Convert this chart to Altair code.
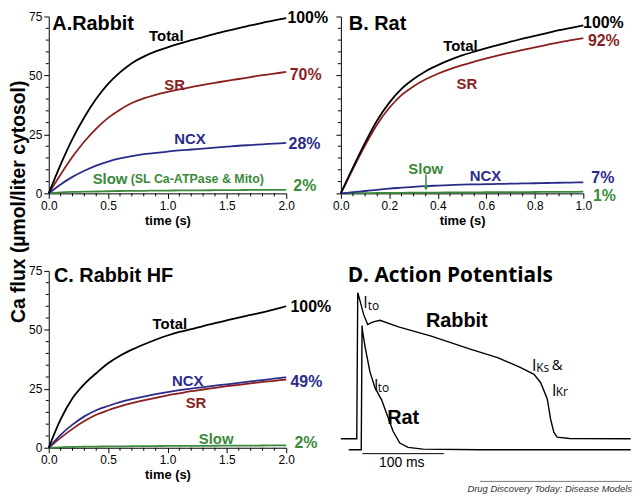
import altair as alt
import pandas as pd

# ---------------- data ----------------
SERIES = ["Slow", "SR", "NCX", "Total"]
SERIES_COLORS = ["#3b8a3b", "#8a1f1f", "#2b2b8a", "#000000"]
BLACK, RED, NAVY, GREEN = "#000000", "#8a1f1f", "#2b2b8a", "#3b8a3b"

# Panel A: Rabbit (time in s, flux in umol/L cytosol)
A_t = [0.0, 0.1, 0.2, 0.3, 0.4, 0.5, 0.6, 0.7, 0.8, 0.9, 1.0,
       1.1, 1.2, 1.3, 1.4, 1.5, 1.6, 1.7, 1.8, 1.9, 2.0]
A_total = [0, 12.2, 23.1, 32.3, 40.1, 46.4, 51.3, 55.2, 58.0, 60.2, 61.9,
           63.5, 65.0, 66.3, 67.6, 68.9, 70.1, 71.2, 72.3, 73.4, 74.3]
A_sr = [0, 8.0, 15.5, 22.0, 27.5, 32.0, 35.5, 38.3, 40.3, 41.8, 43.0,
        44.1, 45.1, 46.0, 46.9, 47.7, 48.5, 49.3, 50.1, 50.8, 51.5]
A_ncx = [0, 3.8, 7.0, 9.6, 11.8, 13.5, 14.8, 15.8, 16.6, 17.2, 17.7,
         18.2, 18.6, 19.0, 19.4, 19.8, 20.2, 20.5, 20.8, 21.1, 21.4]
A_slow = [0, 0.4, 0.6, 0.7, 0.8, 0.9, 1.0, 1.05, 1.1, 1.15, 1.2,
          1.25, 1.3, 1.3, 1.35, 1.4, 1.4, 1.45, 1.45, 1.5, 1.5]

# Panel B: Rat
B_t = [0.0, 0.05, 0.1, 0.15, 0.2, 0.25, 0.3, 0.35, 0.4, 0.45, 0.5,
       0.55, 0.6, 0.65, 0.7, 0.75, 0.8, 0.85, 0.9, 0.95, 1.0]
B_total = [0, 11.0, 21.5, 31.0, 38.5, 44.3, 48.5, 51.8, 54.4, 56.6, 58.5,
           60.1, 61.6, 63.0, 64.3, 65.6, 66.8, 68.0, 69.2, 70.2, 71.2]
B_sr = [0, 10.45, 20.4, 29.35, 36.3, 41.65, 45.4, 48.37, 50.74, 52.7, 54.38,
        55.85, 57.22, 58.5, 59.68, 60.85, 61.92, 63.0, 64.08, 64.95, 65.8]
B_ncx = [0, 0.5, 1.0, 1.5, 2.0, 2.4, 2.8, 3.1, 3.3, 3.5, 3.7,
         3.8, 3.9, 4.0, 4.1, 4.2, 4.3, 4.4, 4.5, 4.6, 4.7]
B_slow = [0, 0.05, 0.1, 0.15, 0.2, 0.25, 0.3, 0.33, 0.36, 0.4, 0.42,
          0.45, 0.48, 0.5, 0.52, 0.55, 0.58, 0.6, 0.62, 0.65, 0.7]

# Panel C: Rabbit HF
C_t = A_t
C_total = [0, 12.0, 21.0, 27.0, 31.6, 35.8, 39.0, 41.6, 43.8, 45.8, 47.6,
           49.1, 50.3, 51.6, 52.8, 54.0, 55.2, 56.3, 57.4, 58.7, 60.0]
C_ncx = [0, 5.5, 9.8, 13.3, 15.9, 17.7, 19.3, 20.6, 21.7, 22.7, 23.6,
         24.4, 25.1, 25.7, 26.3, 26.9, 27.5, 28.1, 28.7, 29.3, 29.8]
C_sr = [0, 4.2, 8.0, 11.3, 14.0, 15.9, 17.5, 18.9, 20.1, 21.2, 22.2,
        23.1, 24.0, 24.7, 25.4, 26.1, 26.7, 27.3, 27.9, 28.4, 28.9]
C_slow = [0, 0.2, 0.35, 0.45, 0.5, 0.55, 0.6, 0.65, 0.7, 0.72, 0.75,
          0.78, 0.8, 0.82, 0.85, 0.88, 0.9, 0.92, 0.95, 0.98, 1.0]

# Panel D: action potentials (time in ms, membrane potential in mV)
rabbit_ms = [-20.7, -1.2, 0.0, 2.4, 7.3, 12.2, 18.0, 27.2, 50.0, 90.2, 139.0,
             171.6, 200.0, 216.3, 224.4, 232.6, 236.6, 240.6, 244.7, 260.0, 335.0]
rabbit_mv = [-80, -80, 40, 34.3, 22, 13.9, 15.8, 17.4, 12.0, 4.3, -6.5,
             -13.3, -21.5, -27.0, -33.7, -47.3, -63.7, -74.6, -78.6, -79.8, -80]
rat_ms = [-11.0, 4.3, 5.3, 6.0, 8.9, 15.0, 21.1, 29.3, 37.4, 43.5, 51.6,
          61.8, 80.0, 150.0, 335.0]
rat_mv = [-89, -89, 13, 8, -4, -25, -38, -48, -63, -74, -83.5,
          -87, -88.5, -89, -89]

# axis ticks: labelled (major) and minor
major_y = [0, 25, 50, 75]
minor_y = [5, 10, 15, 20, 30, 35, 40, 45, 55, 60, 65, 70]
major_x2 = [0.0, 0.5, 1.0, 1.5, 2.0]
minor_x2 = [0.1, 0.2, 0.3, 0.4, 0.6, 0.7, 0.8, 0.9, 1.1, 1.2, 1.3, 1.4,
            1.6, 1.7, 1.8, 1.9]
major_x1 = [0.0, 0.2, 0.4, 0.6, 0.8, 1.0]
minor_x1 = [0.05, 0.1, 0.15, 0.25, 0.3, 0.35, 0.45, 0.5, 0.55, 0.65, 0.7,
            0.75, 0.85, 0.9, 0.95]

# annotations: (x, y, text, colour, font size)
A_notes_c = [(0.99, 66.6, "Total", BLACK, 15), (1.06, 45.9, "SR", RED, 15),
             (1.19, 23.1, "NCX", NAVY, 15)]
A_notes_l = [(0.03, 71.7, "A.Rabbit", BLACK, 20), (0.37, 6.2, "Slow", GREEN, 15),
             (0.69, 5.9, "(SL Ca-ATPase & Mito)", GREEN, 12.5),
             (2.01, 74.2, "100%", BLACK, 16), (2.03, 50.0, "70%", RED, 16),
             (2.02, 21.0, "28%", NAVY, 16), (2.06, 3.0, "2%", GREEN, 16)]
B_notes_c = [(0.493, 62.4, "Total", BLACK, 15), (0.52, 46.3, "SR", RED, 15),
             (0.35, 10.5, "Slow", GREEN, 15), (0.596, 7.2, "NCX", NAVY, 15)]
B_notes_l = [(0.033, 72.0, "B. Rat", BLACK, 20), (0.999, 72.1, "100%", BLACK, 16),
             (1.019, 64.5, "92%", RED, 16), (1.033, 6.5, "7%", NAVY, 16),
             (1.04, -1.1, "1%", GREEN, 16)]
B_arrow = [(0.351, 8.0, 2.2)]
C_notes_c = [(1.02, 52.6, "Total", BLACK, 15), (1.17, 28.5, "NCX", NAVY, 15),
             (1.24, 18.8, "SR", RED, 15), (1.41, 3.9, "Slow", GREEN, 15)]
C_notes_l = [(0.044, 73.0, "C. Rabbit HF", BLACK, 20), (2.036, 59.5, "100%", BLACK, 16),
             (2.036, 27.8, "49%", NAVY, 16), (2.07, 2.2, "2%", GREEN, 16)]
D_title = [(-12.4, 54.1, "D. Action Potentials", BLACK, 21)]
D_bold = [(121.6, 16.6, "Rabbit", BLACK, 20), (55.7, -62.9, "Rat", BLACK, 20)]
D_big_I = [(6.8, 27.5, "I", BLACK, 16), (20.0, -40.6, "I", BLACK, 16),
           (214.0, -24.2, "I", BLACK, 16), (238.4, -44.7, "I", BLACK, 16),
           (238.0, -23.4, "&", BLACK, 15)]
D_sub = [(12.4, 26.1, "to", BLACK, 12), (24.6, -41.9, "to", BLACK, 12),
         (219.0, -25.1, "Ks", BLACK, 12), (243.0, -45.1, "Kr", BLACK, 12)]
D_scalebar = [(5.7, 105.7, -92.2)]
D_scalelabel = [(54.0, -99.6, "100 ms", BLACK, 14)]
D_source_rule = [(150.0, 336.6, -115.0)]
D_source = [(336.6, -121.0, "Drug Discovery Today: Disease Models", "#333333", 9.5)]

# ---------------- helpers ----------------
FONT = "Liberation Sans"
W_AC, W_B, W_D, H = 239, 244, 293, 178


def long_df(t, total, sr, ncx, slow):
    d = {"Slow": slow, "SR": sr, "NCX": ncx, "Total": total}
    rows = []
    for s in SERIES:
        for ti, v in zip(t, d[s]):
            rows.append({"t": ti, "v": v, "s": s})
    return pd.DataFrame(rows)


def axis(values, title="", labels=True, fmt=None, **kw):
    args = dict(values=values, tickSize=5, labelOverlap=False, labelFlush=False,
                grid=False, labels=labels, title=title)
    if fmt:
        args["format"] = fmt
    args.update(kw)
    return alt.Axis(**args)


def text_layer(rows, xs, ys, xax, yax, align="center", font=FONT, weight="bold",
               baseline="middle", style="normal"):
    df = pd.DataFrame(rows, columns=["x", "y", "txt", "col", "fs"])
    return alt.Chart(df).mark_text(align=align, baseline=baseline, font=font,
                                   fontWeight=weight, fontStyle=style).encode(
        x=alt.X("x:Q", scale=xs, axis=xax),
        y=alt.Y("y:Q", scale=ys, axis=yax),
        text="txt:N",
        color=alt.Color("col:N", scale=None),
        size=alt.Size("fs:Q", scale=None),
    )


def lines_layer(df, xs, ys, xax, yax):
    return alt.Chart(df).mark_line(strokeWidth=1.8, interpolate="monotone").encode(
        x=alt.X("t:Q", scale=xs, axis=xax),
        y=alt.Y("v:Q", scale=ys, axis=yax),
        color=alt.Color("s:N", scale=alt.Scale(domain=SERIES, range=SERIES_COLORS), legend=None),
    )


def minor_ticks(xvals, yvals, xs, ys, xax, yax):
    dx = pd.DataFrame({"m": xvals})
    dy = pd.DataFrame({"m": yvals})
    tx = alt.Chart(dx).mark_rule(color="black", strokeWidth=1).encode(
        x=alt.X("m:Q", scale=xs, axis=xax), y=alt.value(H), y2=alt.value(H + 3))
    ty = alt.Chart(dy).mark_rule(color="black", strokeWidth=1).encode(
        y=alt.Y("m:Q", scale=ys, axis=yax), x=alt.value(0), x2=alt.value(-3))
    return [tx, ty]


ys_flux = alt.Scale(domain=[0, 75], nice=False, zero=False)
xs2 = alt.Scale(domain=[0, 2], nice=False, zero=False)
xs1 = alt.Scale(domain=[0, 1], nice=False, zero=False)

# ---------------- panel A ----------------
yA = axis(major_y, title="Ca flux (µmol/liter cytosol)",
          titleX=-24, titleY=186, titleAngle=270, titleAlign="center",
          titleBaseline="alphabetic", titleFontSize=19.5)
xA = axis(major_x2, title="time (s)", fmt=".1f")
panelA = alt.layer(
    lines_layer(long_df(A_t, A_total, A_sr, A_ncx, A_slow), xs2, ys_flux, xA, yA),
    *minor_ticks(minor_x2, minor_y, xs2, ys_flux, xA, yA),
    text_layer(A_notes_c, xs2, ys_flux, xA, yA, "center"),
    text_layer(A_notes_l, xs2, ys_flux, xA, yA, "left"),
).properties(width=W_AC, height=H)

# ---------------- panel B ----------------
yB = axis(major_y, labels=False)
xB = axis(major_x1, title="time (s)", fmt=".1f")
arrow_df = pd.DataFrame(B_arrow, columns=["x", "y0", "y1"])
panelB = alt.layer(
    lines_layer(long_df(B_t, B_total, B_sr, B_ncx, B_slow), xs1, ys_flux, xB, yB),
    *minor_ticks(minor_x1, minor_y, xs1, ys_flux, xB, yB),
    alt.Chart(arrow_df).mark_rule(color=GREEN, strokeWidth=1.5).encode(
        x=alt.X("x:Q", scale=xs1, axis=xB), y=alt.Y("y0:Q", scale=ys_flux, axis=yB), y2="y1:Q"),
    alt.Chart(arrow_df).mark_point(shape="triangle-down", filled=True, color=GREEN, size=30, opacity=1).encode(
        x=alt.X("x:Q", scale=xs1, axis=xB), y=alt.Y("y1:Q", scale=ys_flux, axis=yB)),
    text_layer(B_notes_c, xs1, ys_flux, xB, yB, "center"),
    text_layer(B_notes_l, xs1, ys_flux, xB, yB, "left"),
).properties(width=W_B, height=H)

# ---------------- panel C ----------------
yC = axis(major_y)
xC = axis(major_x2, title="time (s)", fmt=".1f")
panelC = alt.layer(
    lines_layer(long_df(C_t, C_total, C_sr, C_ncx, C_slow), xs2, ys_flux, xC, yC),
    *minor_ticks(minor_x2, minor_y, xs2, ys_flux, xC, yC),
    text_layer(C_notes_c, xs2, ys_flux, xC, yC, "center"),
    text_layer(C_notes_l, xs2, ys_flux, xC, yC, "left"),
).properties(width=W_AC, height=H)

# ---------------- panel D ----------------
xsD = alt.Scale(domain=[-20.7, 336.6], nice=False, zero=False)
ysD = alt.Scale(domain=[-87.35, 57.96], nice=False, zero=False)
ap_rows = ([{"ms": m, "mv": v, "trace": "Rabbit"} for m, v in zip(rabbit_ms, rabbit_mv)] +
           [{"ms": m, "mv": v, "trace": "Rat"} for m, v in zip(rat_ms, rat_mv)])
ap_df = pd.DataFrame(ap_rows)
bar_df = pd.DataFrame(D_scalebar, columns=["x0", "x1", "y"])
src_df = pd.DataFrame(D_source_rule, columns=["x0", "x1", "y"])

panelD = alt.layer(
    alt.Chart(ap_df).mark_line(color="black", strokeWidth=1.4).encode(
        x=alt.X("ms:Q", scale=xsD, axis=None),
        y=alt.Y("mv:Q", scale=ysD, axis=None),
        detail="trace:N"),
    alt.Chart(bar_df).mark_rule(color="black", strokeWidth=1).encode(
        x=alt.X("x0:Q", scale=xsD, axis=None), x2="x1:Q",
        y=alt.Y("y:Q", scale=ysD, axis=None)),
    alt.Chart(src_df).mark_rule(color="#555555", strokeWidth=0.8).encode(
        x=alt.X("x0:Q", scale=xsD, axis=None), x2="x1:Q",
        y=alt.Y("y:Q", scale=ysD, axis=None)),
    text_layer(D_title, xsD, ysD, None, None, "left", font="Open Sans"),
    text_layer(D_bold, xsD, ysD, None, None, "center"),
    text_layer(D_big_I, xsD, ysD, None, None, "left", font="Open Sans", weight="normal", baseline="alphabetic"),
    text_layer(D_sub, xsD, ysD, None, None, "left", font="Open Sans", weight="normal", baseline="alphabetic"),
    text_layer(D_scalelabel, xsD, ysD, None, None, "center", weight="normal"),
    text_layer(D_source, xsD, ysD, None, None, "right", weight="normal", style="italic"),
).properties(width=W_D, height=H)

chart = alt.concat(
    panelA, panelB, panelC, panelD, columns=2,
    spacing={"row": 78, "column": 55}, bounds="flush",
).properties(
    padding={"left": 0, "top": 0, "right": 0, "bottom": 0}
).configure_view(stroke=None).configure_axis(
    domainColor="black", domainWidth=1, tickColor="black", tickWidth=1,
    labelColor="black", labelFont=FONT, labelFontSize=12, labelPadding=2,
    titleFont=FONT, titleFontSize=13, titleFontWeight="bold", titleColor="black",
    titlePadding=3,
)

chart.save("out.html", embed_options={"renderer": "svg", "actions": False})
